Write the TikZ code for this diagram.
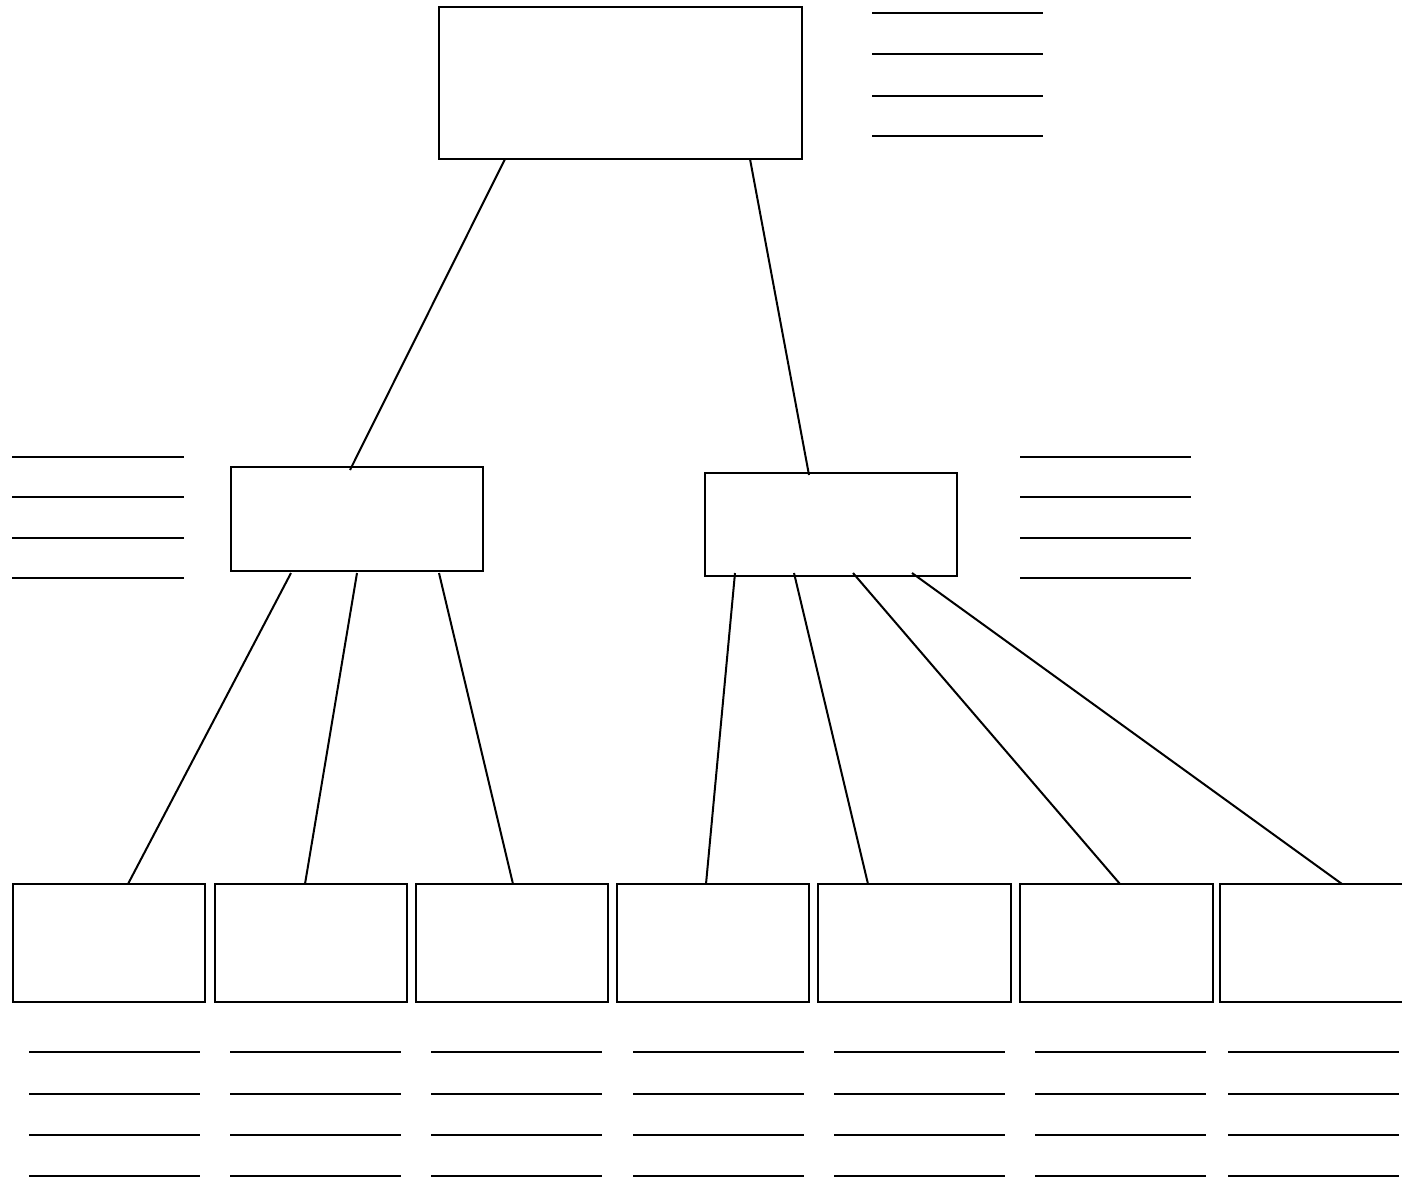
\documentclass[tikz,border=0pt]{standalone}
\begin{document}
\begin{tikzpicture}[x=1pt,y=-1pt,
  box/.style={draw, line width=2.8pt, rectangle, inner sep=0pt, outer sep=0pt},
  bbox/.style={box, minimum width=192pt, minimum height=118pt},
  conn/.style={line width=2pt},
  blank/.style={line width=2.6pt}]
\useasboundingbox (0,0) rectangle (1402,1181);
% boxes
\node[box, minimum width=363pt, minimum height=152pt] (top) at (620.5,83) {};
\node[box, minimum width=252pt, minimum height=104pt] (midL) at (357,519) {};
\node[box, minimum width=252pt, minimum height=103pt] (midR) at (831,524.5) {};
\node[bbox] (b1) at (109,943) {};
\node[bbox] (b2) at (311,943) {};
\node[bbox] (b3) at (512,943) {};
\node[bbox] (b4) at (713,943) {};
\node[bbox, minimum width=193pt] (b5) at (914.5,943) {};
\node[bbox, minimum width=193pt] (b6) at (1116.5,943) {};
\node[inner sep=0pt, outer sep=0pt, minimum width=184pt, minimum height=118pt] (b7) at (1312,943) {};
\draw[line width=2.8pt] (b7.north east) -- (b7.north west) -- (b7.south west) -- (b7.south east);
% connectors
\draw[conn] ([xshift=66pt]top.south west) -- ([xshift=119pt,yshift=-3pt]midL.north west);
\draw[conn] ([xshift=311pt]top.south west) -- ([xshift=104pt,yshift=-2pt]midR.north west);
\draw[conn] ([xshift=60pt,yshift=-2pt]midL.south west) -- ([xshift=115pt]b1.north west);
\draw[conn] ([xshift=126pt,yshift=-2pt]midL.south west) -- ([xshift=90pt]b2.north west);
\draw[conn] ([xshift=208pt,yshift=-2pt]midL.south west) -- ([xshift=97pt]b3.north west);
\draw[conn] ([xshift=30pt,yshift=3pt]midR.south west) -- ([xshift=89pt]b4.north west);
\draw[conn] ([xshift=89pt,yshift=3pt]midR.south west) -- ([xshift=50pt]b5.north west);
\draw[conn] ([xshift=148pt,yshift=3pt]midR.south west) -- ([xshift=100pt]b6.north west);
\draw[conn] ([xshift=207pt,yshift=3pt]midR.south west) -- ([xshift=122pt]b7.north west);
% blank writing lines
\foreach \y in {13,54,96,136} \draw[blank] (872,\y) -- (1043,\y);
\foreach \y in {457,497,538,578} {
  \draw[blank] (12,\y) -- (184,\y);
  \draw[blank] (1020,\y) -- (1191,\y);
}
\foreach \x in {29,230,431,633,834,1035,1228}
  \foreach \y in {1052,1094,1135,1176}
    \draw[blank] (\x,\y) -- ++(171,0);
\end{tikzpicture}
\end{document}
